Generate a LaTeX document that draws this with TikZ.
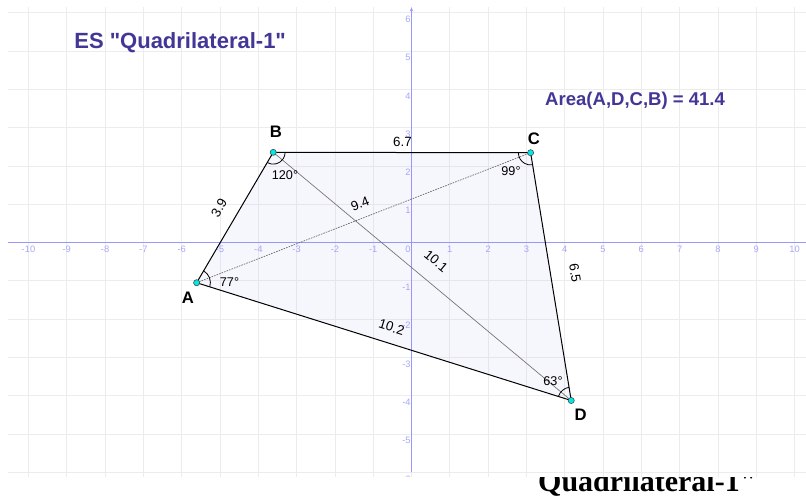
\documentclass[tikz,border=0pt]{standalone}
\usepackage{fontspec}
\setmainfont{Liberation Sans}[Ligatures=TeXOff]
\newfontfamily\captionserif{Liberation Serif}[Ligatures=TeXOff]
\usepackage{xcolor}
\usetikzlibrary{arrows.meta}
\definecolor{titlepurple}{RGB}{66,54,150}
\definecolor{axisblue}{RGB}{152,152,250}
\definecolor{ticklabel}{RGB}{168,168,250}
\definecolor{gridgray}{RGB}{236,236,236}
\definecolor{quadfill}{RGB}{140,140,230}
\definecolor{pointcyan}{RGB}{0,232,232}

\begin{document}
\begin{tikzpicture}[x=1.00957cm, y=1.00957cm,
  gridline/.style={gridgray, line width=0.6pt},
  axisline/.style={axisblue, line width=0.75pt},
  ticklbl/.style={font=\fontsize{7}{8}\selectfont, text=ticklabel, inner sep=0.5pt},
  side/.style={line width=0.75pt},
  diag/.style={black!55, line width=0.5pt},
  diagdot/.style={black!60, line width=0.5pt, dash pattern=on 1.2pt off 0.8pt},
  anglearc/.style={line width=0.6pt},
  pt/.style={circle, draw=black!75, fill=pointcyan, line width=0.4pt, inner sep=0, minimum size=4.6pt},
  vlabel/.style={font=\fontsize{12.5}{14}\selectfont\bfseries, inner sep=0},
  anglbl/.style={font=\fontsize{9.5}{11}\selectfont, inner sep=0},
  lenlbl/.style={font=\fontsize{10}{12}\selectfont, inner sep=0},
  titletext/.style={font=\fontsize{16.5}{19}\selectfont\bfseries, text=titlepurple, inner sep=0, anchor=base west}
]
\useasboundingbox (-10.744,-6.593) rectangle (10.3,6.332);

\node[font=\captionserif\fontsize{22.5}{26}\selectfont\bfseries, anchor=base west, inner sep=0] (caption) at (3.30,-6.488) {Quadrilateral-1"};

\fill[white] (-10.744,-6.11) rectangle (10.3,6.332);
\begin{scope}
\clip (-10.744,-6.11) rectangle (10.3,6.332);
\foreach \gy in {-6,...,6} \draw[gridline] (-10.53,\gy) -- (10.3,\gy);
\foreach \gx in {-10,...,10} \draw[gridline] (\gx,-6.2) -- (\gx,6.14);
\draw[axisline] (-10.53,0) -- (10.3,0);
\draw[axisline, -{Stealth[length=3pt,width=2.4pt]}] (0,-6.0) -- (0,6.14);
\foreach \gx in {-10,...,-1,1,2,...,10} \node[ticklbl] (xt\gx) at (\gx,-0.17) {\gx};
\foreach \gy in {-6,...,-1,1,2,...,6} \node[ticklbl, anchor=east] (yt\gy) at (0,\gy-0.17) {\gy};
\node[ticklbl, anchor=east] (xt0) at (0,-0.17) {0};
\end{scope}

\coordinate (A) at (-5.61,-1.05);
\coordinate (B) at (-3.61,2.355);
\coordinate (C) at (3.11,2.345);
\coordinate (D) at (4.17,-4.125);

\fill[quadfill, fill opacity=0.07] (A) -- (B) -- (C) -- (D) -- cycle;
\draw[diag] (B) -- (D);
\draw[diagdot] (A) -- (C);
\draw[side] (A) -- (B) -- (C) -- (D) -- cycle;

\draw[anglearc] ([shift={(-17.45:0.36)}]A) arc[start angle=-17.45, end angle=59.57, radius=0.36];
\draw[anglearc] ([shift={(-120.43:0.31)}]B) arc[start angle=-120.43, end angle=-0.1, radius=0.31];
\draw[anglearc] ([shift={(180:0.32)}]C) arc[start angle=180, end angle=279.3, radius=0.32];
\draw[anglearc] ([shift={(99.3:0.35)}]D) arc[start angle=99.3, end angle=162.55, radius=0.35];

\node[pt] (pA) at (A) {};
\node[pt] (pB) at (B) {};
\node[pt] (pC) at (C) {};
\node[pt] (pD) at (D) {};

\node[vlabel] (labA) at (-5.836,-1.449) {A};
\node[vlabel] (labB) at (-3.538,2.893) {B};
\node[vlabel] (labC) at (3.193,2.71) {C};
\node[vlabel] (labD) at (4.418,-4.504) {D};

\node[anglbl] (angA) at (-4.752,-1.039) {77°};
\node[anglbl] (angB) at (-3.303,1.762) {120°};
\node[anglbl] (angC) at (2.598,1.875) {99°};
\node[anglbl] (angD) at (3.695,-3.616) {63°};

\node[lenlbl, rotate=59.57] (lenAB) at (-5.026,0.901) {3.9};
\node[lenlbl] (lenBC) at (-0.235,2.624) {6.7};
\node[lenlbl, rotate=-80.7] (lenCD) at (4.27,-0.804) {6.5};
\node[lenlbl, rotate=-17.45] (lenAD) at (-0.52,-2.21) {10.2};
\node[lenlbl, rotate=21.25] (lenAC) at (-1.345,1.005) {9.4};
\node[lenlbl, rotate=-39.8] (lenBD) at (0.64,-0.483) {10.1};

\node[titletext] (title) at (-8.81,5.07) {ES "Quadrilateral-1"};
\node[titletext, font=\fontsize{13.9}{16}\selectfont\bfseries] (area) at (3.485,3.59) {Area(A,D,C,B) = 41.4};
\end{tikzpicture}
\end{document}
